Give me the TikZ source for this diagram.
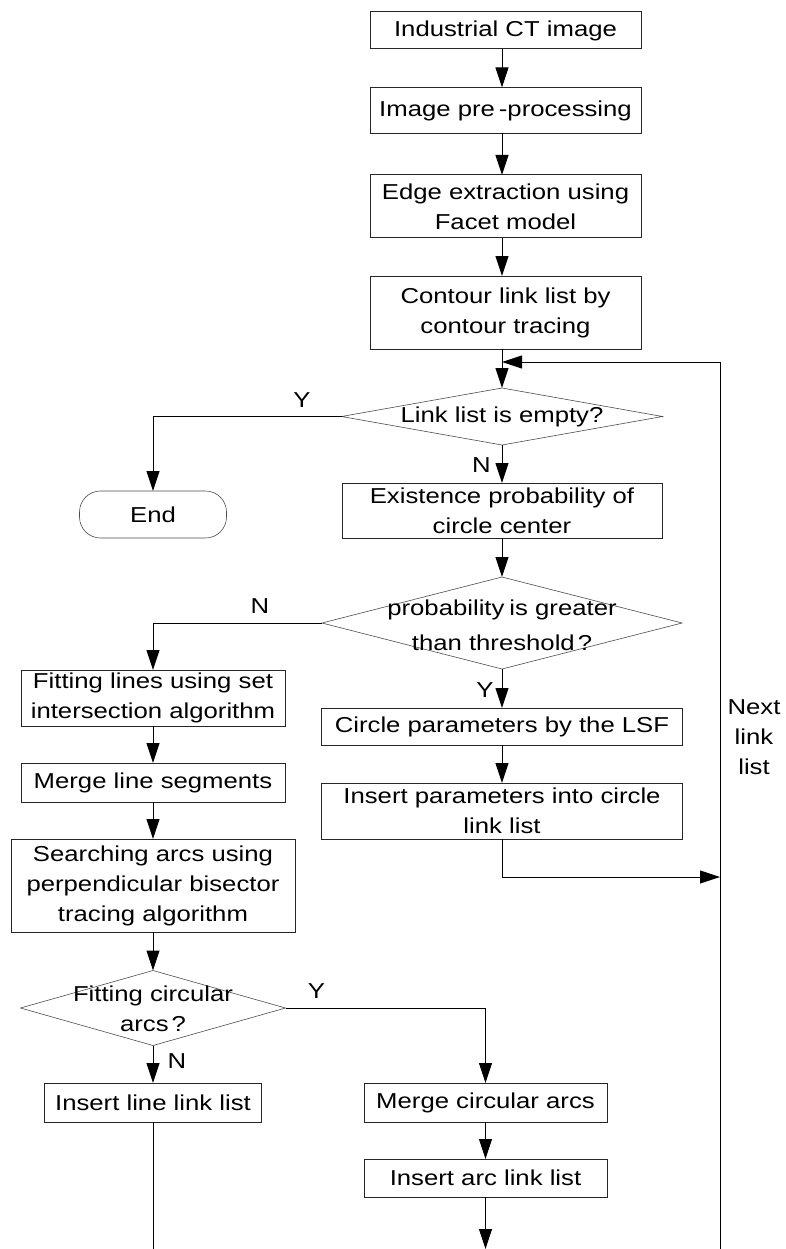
\documentclass[tikz,border=0pt]{standalone}
\usepackage{fontspec}
\setmainfont[FakeStretch=1.19]{Liberation Sans}
\usetikzlibrary{arrows.meta,shapes.geometric}
\newcommand\figfont{\fontsize{21.6}{30}\selectfont}
\begin{document}
\begin{tikzpicture}[x=1pt,y=-1pt,
  box/.style={draw=black!85, line width=1pt, inner sep=0pt, outer sep=0pt, align=center, font=\figfont},
  dia/.style={diamond, draw=black!70, line width=0.6pt, inner sep=0pt, outer sep=0pt},
  term/.style={draw=black!70, line width=0.6pt, rounded corners=21pt, inner sep=0pt, outer sep=0pt, font=\figfont},
  lbl/.style={font=\figfont, inner sep=0pt, align=center},
  arr/.style={-{Triangle[length=20pt,width=13pt]}, line width=1pt},
  ln/.style={line width=1pt}]
\useasboundingbox (0,0) rectangle (786,1249);

% main column
\node[box, minimum width=271pt, minimum height=37pt] (b1) at (505.5,30.5) {Industrial CT image};
\node[box, minimum width=271pt, minimum height=46pt] (b2) at (505.5,110.5) {Image pre\kern4pt-processing};
\node[box, minimum width=271pt, minimum height=63pt] (b3) at (505.5,206.5) {Edge extraction using\\Facet model};
\node[box, minimum width=271pt, minimum height=73pt] (b4) at (505.5,312.5) {Contour link list by\\contour tracing};

\node[dia, minimum width=321pt, minimum height=57pt] (d1) at (502,416.5) {};
\node[lbl] (d1t) at (d1) {Link list is empty?};

\node[term, minimum width=147pt, minimum height=47pt] (end) at (153,514.5) {End};

\node[box, minimum width=320pt, minimum height=55pt] (e1) at (502,510.5) {Existence probability of\\circle center};

\node[dia, minimum width=360pt, minimum height=92pt] (d2) at (502,623) {};
\node[lbl] (d2t) at (502,625) {probability\kern5pt is greater\\[5pt]than threshold\kern3pt?};

\node[box, minimum width=361pt, minimum height=37pt] (c1) at (502,726.5) {Circle parameters by the LSF};
\node[box, minimum width=361pt, minimum height=56pt] (ip) at (502,811) {Insert parameters into circle\\link list};

% left column
\node[box, minimum width=264pt, minimum height=56pt] (f1) at (153,698) {Fitting lines using set\\intersection algorithm};
\node[box, minimum width=264pt, minimum height=39pt] (m1) at (153,782.5) {Merge line segments};
\node[box, minimum width=284pt, minimum height=93pt] (s1) at (153,885.5) {Searching arcs using\\perpendicular bisector\\tracing algorithm};

\node[dia, minimum width=265pt, minimum height=75pt] (d3) at (153,1008) {};
\node[lbl] (d3t) at (153,1009) {Fitting circular\\arcs\kern3pt?};

\node[box, minimum width=217pt, minimum height=39pt] (il) at (153,1102.5) {Insert line link list};
\node[box, minimum width=243pt, minimum height=39pt] (mc) at (485.5,1102.5) {Merge circular arcs};
\node[box, minimum width=243pt, minimum height=38pt] (ia) at (485.5,1178) {Insert arc link list};

% labels
\node[lbl] (ly1) at (302,400) {Y};
\node[lbl] (ln1) at (481.5,465) {N};
\node[lbl] (ln2) at (260,606.5) {N};
\node[lbl] (ly2) at (485,690) {Y};
\node[lbl] (ly3) at (316.5,991) {Y};
\node[lbl] (ln3) at (177,1061) {N};
\node[lbl] (next) at (754,737) {Next\\link\\list};

% coordinates
\coordinate (r1) at (720,1249);
\coordinate (r2) at (720,362);
\coordinate (r3) at (720,877);
\coordinate (bl) at (153,1249);
\coordinate (br) at (485.5,1249);

% connectors
\draw[arr] (b1.south -| d1) -- (b2.north -| d1);
\draw[arr] (b2.south -| d1) -- (b3.north -| d1);
\draw[arr] (b3.south -| d1) -- (b4.north -| d1);
\draw[arr] (b4.south -| d1) -- (d1.north);
\draw[arr] (r1) -- (r2) -- (r2 -| d1);
\draw[arr] (d1.west) -| (end.north);
\draw[arr] (d1.south) -- (e1.north);
\draw[arr] (e1.south) -- (d2.north);
\draw[arr] (d2.west) -| (f1.north);
\draw[arr] (d2.south) -- (c1.north);
\draw[arr] (c1.south) -- (ip.north);
\draw[arr] (ip.south) |- (r3);
\draw[arr] (f1.south) -- (m1.north);
\draw[arr] (m1.south) -- (s1.north);
\draw[arr] (s1.south) -- (d3.north);
\draw[arr] (d3.south) -- (il.north);
\draw[arr] (d3.east) -| (mc.north);
\draw[arr] (mc.south) -- (ia.north);
\draw[arr] (ia.south) -- (br);
\draw[ln] (il.south) -- (bl);
\end{tikzpicture}
\end{document}
